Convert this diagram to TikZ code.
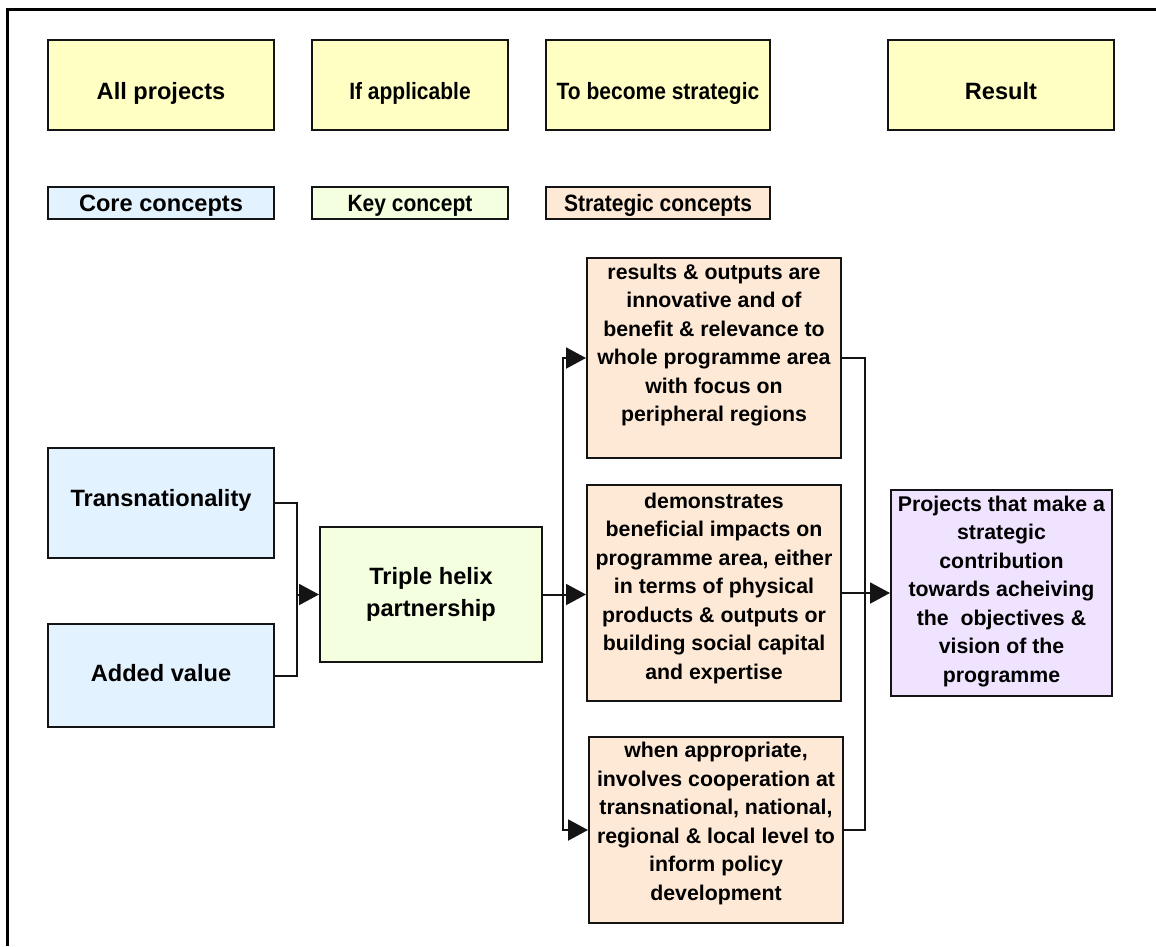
\documentclass[tikz,border=0pt]{standalone}
\usepackage{fontspec}
\setmainfont{Liberation Sans}
\usetikzlibrary{arrows.meta}
\definecolor{hdrcol}{RGB}{255,255,196}
\definecolor{corecol}{RGB}{227,242,255}
\definecolor{keycol}{RGB}{243,255,222}
\definecolor{stratcol}{RGB}{253,233,213}
\definecolor{rescol}{RGB}{240,227,255}
\definecolor{edgecol}{RGB}{20,20,20}
\newcommand\toptext[4]{\parbox[c][#1][t]{#2}{\centering\vspace*{#3}\strut #4}}
\newcommand\narrowtext[1]{\scalebox{0.89}[1]{#1}}
\begin{document}
\begin{tikzpicture}[x=1pt,y=-1pt,
  basebox/.style={draw=edgecol, line width=2pt, inner sep=0pt, align=center},
  bigfont/.style={font=\bfseries\fontsize{23.6}{32}\selectfont},
  smallfont/.style={font=\bfseries\fontsize{21.3}{28.5}\selectfont},
  hdrbox/.style={basebox, bigfont, fill=hdrcol, minimum height=90pt, text height=33pt, text depth=5pt},
  labbox/.style={basebox, bigfont, minimum height=32pt, text height=21pt, text depth=5pt},
  corebox/.style={basebox, bigfont, fill=corecol, minimum width=226pt},
  keybox/.style={basebox, bigfont, fill=keycol},
  stratbox/.style={basebox, smallfont, fill=stratcol},
  resbox/.style={basebox, smallfont, fill=rescol},
  conn/.style={draw=edgecol, line width=2pt},
  arr/.style={conn, -{Triangle[length=20pt,width=21pt]}}
]
\useasboundingbox (0,0) rectangle (1156,946);
% outer frame (only top and left edges are visible)
\coordinate (fbl) at (7,946);
\coordinate (ftl) at (7,9.5);
\coordinate (ftr) at (1156,9.5);
\draw[line width=3pt, line join=miter] (fbl) -- (ftl) -- (ftr);

% header row
\node[hdrbox, minimum width=226pt] (h1) at (161,85) {All projects};
\node[hdrbox, minimum width=196pt] (h2) at (410,85) {\narrowtext{If applicable}};
\node[hdrbox, minimum width=224pt, text height=34.5pt] (h3) at (658,85) {\narrowtext{To become strategic}};
\node[hdrbox, minimum width=226pt] (h4) at (1001,85) {Result};

% concept labels
\node[labbox, fill=corecol, minimum width=226pt] (c1) at (161,203) {Core concepts};
\node[labbox, fill=keycol, minimum width=196pt] (c2) at (410,203) {\narrowtext{Key concept}};
\node[labbox, fill=stratcol, minimum width=224pt] (c3) at (658,203) {\narrowtext{Strategic concepts}};

% core concepts
\node[corebox, minimum height=110pt, text height=17pt, text depth=11pt] (tn) at (161,503) {Transnationality};
\node[corebox, minimum height=103pt, text height=18pt, text depth=5.6pt] (av) at (161,675.5) {Added value};

% key concept
\node[keybox, minimum width=222pt, minimum height=135pt] (th) at (431,594.5) {Triple helix\\partnership};

% strategic concepts
\node[stratbox, minimum width=254pt, minimum height=200pt] (s1) at (714,358)
  {\toptext{200pt}{254pt}{1.5pt}{results \& outputs are\\innovative and of\\benefit \& relevance to\\whole programme area\\with focus on\\peripheral regions}};
\node[stratbox, minimum width=254pt, minimum height=216pt] (s2) at (714,593)
  {\toptext{216pt}{254pt}{3.5pt}{demonstrates\\beneficial impacts on\\programme area, either\\in terms of physical\\products \& outputs or\\building social capital\\and expertise}};
\node[stratbox, minimum width=254pt, minimum height=186pt] (s3) at (716,830)
  {\toptext{186pt}{254pt}{1pt}{when appropriate,\\involves cooperation at\\transnational, national,\\regional \& local level to\\inform policy\\development}};

% result
\node[resbox, minimum width=221pt, minimum height=206pt] (pp) at (1001.5,593)
  {\toptext{206pt}{221pt}{1.5pt}{Projects that make a\\strategic\\contribution\\towards acheiving\\the\ \ objectives \&\\vision of the\\programme}};

% junctions
\coordinate (j1) at (297,594.5);
\coordinate (j2) at (563,594.5);
\coordinate (j3) at (865,593);

% connectors
\draw[conn] (tn.east) -| (j1) |- (av.east);
\draw[arr] (j1) -- (th.west);
\draw[conn] (th.east) -- (j2);
\draw[arr] (j2) -- (j2 -| s2.west);
\draw[arr] (j2) |- (s1.west);
\draw[arr] (j2) |- (s3.west);
\draw[conn] (s1.east) -| (j3) |- (s3.east);
\draw[arr] (s2.east) -- (pp.west);
\end{tikzpicture}
\end{document}
